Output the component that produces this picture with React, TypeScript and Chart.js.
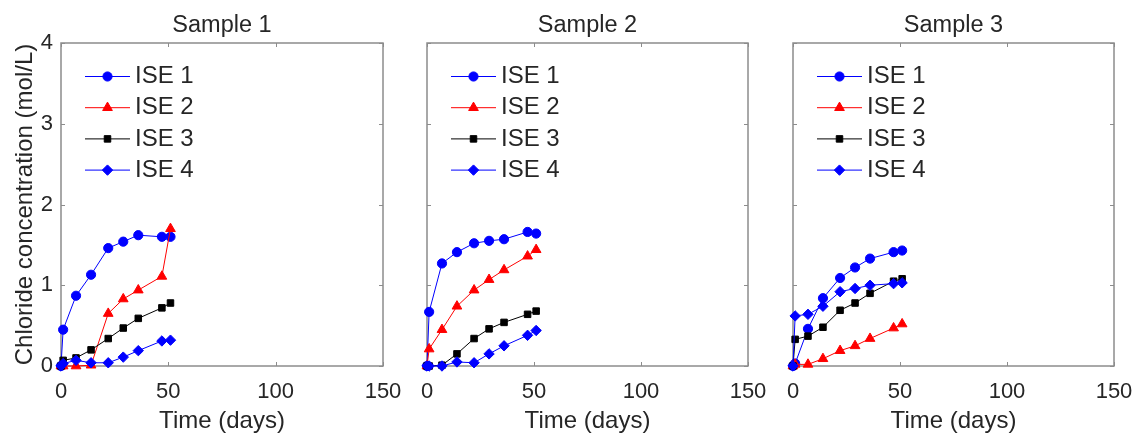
import React, { useEffect, useRef } from 'react';
import { Chart, registerables } from 'chart.js';
import { drawPoint } from 'chart.js/helpers';

Chart.register(...registerables);

// ---------- data ----------
const days = [0, 1, 7, 14, 22, 29, 36, 47, 51];
const seriesNames = ['ISE 1', 'ISE 2', 'ISE 3', 'ISE 4'];
const panelTitles = ['Sample 1', 'Sample 2', 'Sample 3'];
const xTickValues = [0, 50, 100, 150];
const yTickValues = [0, 1, 2, 3, 4];
const xAxisTitle = 'Time (days)';
const yAxisTitle = 'Chloride concentration (mol/L)';

const s1Ise1 = [0, 0.45, 0.87, 1.13, 1.46, 1.54, 1.62, 1.6, 1.6];
const s1Ise2 = [0, 0, 0, 0.01, 0.65, 0.83, 0.94, 1.11, 1.7];
const s1Ise3 = [0, 0.07, 0.1, 0.2, 0.34, 0.47, 0.59, 0.72, 0.78];
const s1Ise4 = [0, 0.03, 0.07, 0.04, 0.04, 0.11, 0.19, 0.31, 0.32];

const s2Ise1 = [0, 0.67, 1.27, 1.41, 1.52, 1.55, 1.57, 1.66, 1.64];
const s2Ise2 = [0, 0.21, 0.45, 0.74, 0.94, 1.07, 1.19, 1.36, 1.44];
const s2Ise3 = [0, 0, 0.01, 0.15, 0.34, 0.46, 0.54, 0.64, 0.68];
const s2Ise4 = [0, 0, 0, 0.05, 0.04, 0.15, 0.25, 0.38, 0.44];

const s3Ise1 = [0, 0.03, 0.46, 0.84, 1.09, 1.22, 1.33, 1.41, 1.43];
const s3Ise2 = [0, 0.02, 0.02, 0.09, 0.19, 0.25, 0.34, 0.47, 0.52];
const s3Ise3 = [0, 0.33, 0.37, 0.48, 0.69, 0.78, 0.9, 1.05, 1.08];
const s3Ise4 = [0, 0.62, 0.64, 0.74, 0.92, 0.96, 1.0, 1.02, 1.03];

const panelSeries = [
  [s1Ise1, s1Ise2, s1Ise3, s1Ise4],
  [s2Ise1, s2Ise2, s2Ise3, s2Ise4],
  [s3Ise1, s3Ise2, s3Ise3, s3Ise4],
];

// ---------- styles ----------
const FONT = '"Liberation Sans", Arial, Helvetica, sans-serif';
const TEXT = '#262626';
const AXIS = '#8c8c8c';
const seriesColors = ['#0000ff', '#ff0000', '#000000', '#0000ff'];
const seriesStyles = ['circle', 'triangle', 'rect', 'rectRot'];
const seriesRadius = [4.6, 5.6, 4.6, 5.2];

const PANELS = [
  { canvasLeft: 0, yWidth: 61, width: 403 },
  { canvasLeft: 407, yWidth: 20, width: 361 },
  { canvasLeft: 773, yWidth: 20, width: 361 },
];

const decorPlugin = {
  id: 'panelDecor',
  beforeDatasetsDraw(chart: any) {
    const { ctx, chartArea } = chart;
    const { left, right, top, bottom } = chartArea;
    const xs = chart.scales.x;
    const ys = chart.scales.y;
    ctx.save();
    ctx.strokeStyle = AXIS;
    ctx.lineWidth = 1.5;
    ctx.strokeRect(left, top, right - left, bottom - top);
    ctx.lineWidth = 1;
    const tl = 4;
    ctx.beginPath();
    xTickValues.forEach((v) => {
      const px = Math.round(xs.getPixelForValue(v)) + 0.5;
      ctx.moveTo(px, bottom);
      ctx.lineTo(px, bottom - tl);
      ctx.moveTo(px, top);
      ctx.lineTo(px, top + tl);
    });
    yTickValues.forEach((v) => {
      const py = Math.round(ys.getPixelForValue(v)) + 0.5;
      ctx.moveTo(left, py);
      ctx.lineTo(left + tl, py);
      ctx.moveTo(right, py);
      ctx.lineTo(right - tl, py);
    });
    ctx.stroke();
    ctx.restore();
  },
  afterDraw(chart: any, _a: any, opts: any) {
    const { ctx, chartArea } = chart;
    const { left, right, top, bottom } = chartArea;
    ctx.save();
    ctx.fillStyle = TEXT;
    ctx.textAlign = 'center';
    ctx.textBaseline = 'alphabetic';
    // title
    ctx.font = `23.5px ${FONT}`;
    ctx.fillText(opts.title, (left + right) / 2, 32);
    // x axis title
    ctx.font = `24px ${FONT}`;
    ctx.fillText(xAxisTitle, (left + right) / 2, 428);
    // y axis title
    if (opts.showYTitle) {
      ctx.save();
      ctx.translate(32, (top + bottom) / 2);
      ctx.rotate(-Math.PI / 2);
      ctx.fillText(yAxisTitle, 0, 0);
      ctx.restore();
    }
    // legend
    chart.data.datasets.forEach((ds: any, i: number) => {
      const y = top + 33.5 + i * 31.2;
      ctx.strokeStyle = ds.borderColor;
      ctx.lineWidth = 1;
      ctx.beginPath();
      ctx.moveTo(left + 24, y);
      ctx.lineTo(left + 69, y);
      ctx.stroke();
      ctx.fillStyle = ds.pointBackgroundColor;
      ctx.strokeStyle = ds.pointBorderColor;
      drawPoint(ctx, { pointStyle: ds.pointStyle, radius: ds.pointRadius, rotation: 0, borderWidth: 1 }, left + 46.5, y);
      ctx.fillStyle = TEXT;
      ctx.textAlign = 'left';
      ctx.textBaseline = 'middle';
      ctx.font = `24px ${FONT}`;
      ctx.fillText(ds.label, left + 74, y);
    });
    ctx.restore();
  },
};

function Panel({ index }: { index: number }) {
  const ref = useRef<HTMLCanvasElement | null>(null);
  useEffect(() => {
    const canvas = ref.current;
    if (!canvas) return;
    const p = PANELS[index];
    const datasets = panelSeries[index].map((vals, i) => ({
      label: seriesNames[i],
      data: days.map((d, k) => ({ x: d, y: vals[k] })),
      borderColor: seriesColors[i],
      backgroundColor: seriesColors[i],
      pointBackgroundColor: seriesColors[i],
      pointBorderColor: seriesColors[i],
      pointBorderWidth: 1,
      pointStyle: seriesStyles[i],
      pointRadius: seriesRadius[i],
      borderWidth: 1,
      tension: 0,
      clip: false as any,
      order: 4 - i,
    }));
    const chart = new Chart(canvas, {
      type: 'line',
      data: { datasets },
      plugins: [decorPlugin],
      options: {
        responsive: false,
        animation: false,
        events: [],
        layout: { padding: { top: 43, right: 20, left: 0, bottom: 0 } },
        plugins: {
          legend: { display: false },
          tooltip: { enabled: false },
          title: { display: false },
          panelDecor: { title: panelTitles[index], showYTitle: index === 0 },
        } as any,
        scales: {
          x: {
            type: 'linear',
            min: 0,
            max: 150,
            afterBuildTicks: (scale: any) => {
              scale.ticks = xTickValues.map((v) => ({ value: v }));
            },
            afterFit: (scale: any) => {
              scale.height = 69;
              scale.paddingLeft = 0;
              scale.paddingRight = 0;
            },
            grid: { display: false, drawTicks: false },
            border: { display: false },
            ticks: {
              padding: 13,
              color: TEXT,
              font: { family: FONT, size: 22 },
              maxRotation: 0,
              autoSkip: false,
            },
          },
          y: {
            type: 'linear',
            min: 0,
            max: 4,
            afterBuildTicks: (scale: any) => {
              scale.ticks = yTickValues.map((v) => ({ value: v }));
            },
            afterFit: (scale: any) => {
              scale.width = p.yWidth;
              scale.paddingTop = 0;
              scale.paddingBottom = 0;
            },
            grid: { display: false, drawTicks: false },
            border: { display: false },
            ticks: {
              display: index === 0,
              padding: 8,
              color: TEXT,
              font: { family: FONT, size: 22 },
            },
          },
        },
      },
    });
    return () => chart.destroy();
  }, [index]);
  const p = PANELS[index];
  return (
    <canvas
      ref={ref}
      width={p.width}
      height={435}
      style={{ position: 'absolute', left: p.canvasLeft, top: 0, width: p.width, height: 435 }}
    />
  );
}

export default function App() {
  return (
    <div style={{ position: 'absolute', left: 0, top: 0, width: 1141, height: 435, background: '#fff' }}>
      <Panel index={0} />
      <Panel index={1} />
      <Panel index={2} />
    </div>
  );
}
